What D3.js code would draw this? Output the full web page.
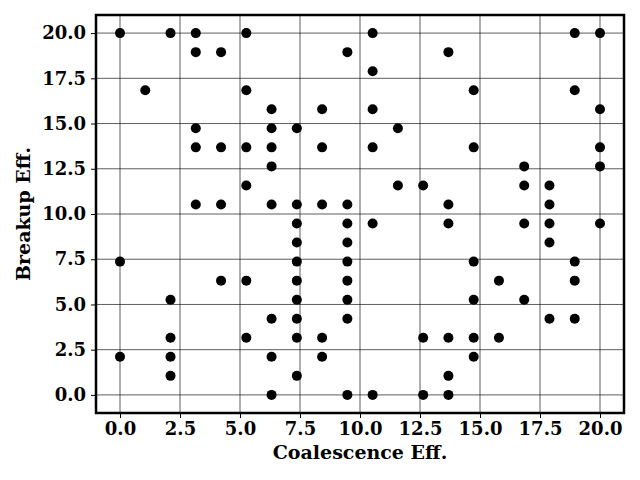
<!DOCTYPE html>
<html><head><meta charset="utf-8">
<script src="https://cdn.jsdelivr.net/npm/d3@7"></script>
<style>body{margin:0;background:#fff}</style>
</head><body>
<svg id="c" width="640" height="480"></svg>
<script>
// Grid levels: 20 evenly spaced values from 0 to 20
const levels = Array.from({length: 20}, (_, k) => k * 20 / 19);
// Points given as [x-level index, y-level index]
const rowJ = [19,18,17,16,15,14,13,12,11,10,9,8,7,6,5,4,3,2,1,0];
const rowI = [
  [0,2,3,5,10,18,19],
  [3,4,9,13],
  [10],
  [1,5,14,18],
  [6,8,10,19],
  [3,6,7,11],
  [3,4,5,6,8,10,14,19],
  [6,16,19],
  [5,11,12,16,17],
  [3,4,6,7,8,9,13,17],
  [7,9,10,13,16,17,19],
  [7,9,17],
  [0,7,9,14,18],
  [4,5,7,9,15,18],
  [2,7,9,14,16],
  [6,7,9,17,18],
  [2,5,7,8,12,13,14,15],
  [0,2,6,8,14],
  [2,7,13],
  [6,9,10,12,13]
];
const xValues = [], yValues = [];
rowJ.forEach((j, r) => rowI[r].forEach(i => { xValues.push(levels[i]); yValues.push(levels[j]); }));
const ticks = [0, 2.5, 5, 7.5, 10, 12.5, 15, 17.5, 20];

const svg = d3.select("#c");
const L = 96, R = 624, T = 15, B = 413;
const x = d3.scaleLinear().domain([-1, 21]).range([L, R]);
const y = d3.scaleLinear().domain([-1, 21]).range([B, T]);
const font = "'DejaVu Serif', serif";

// grid
svg.append("g").selectAll("line.gx").data(ticks).join("line")
  .attr("x1", d => x(d)).attr("x2", d => x(d)).attr("y1", T).attr("y2", B)
  .attr("stroke", "#000").attr("stroke-width", 0.8).attr("stroke-opacity", 0.8);
svg.append("g").selectAll("line.gy").data(ticks).join("line")
  .attr("y1", d => y(d)).attr("y2", d => y(d)).attr("x1", L).attr("x2", R)
  .attr("stroke", "#000").attr("stroke-width", 0.8).attr("stroke-opacity", 0.8);

// points
svg.append("g").selectAll("circle").data(xValues).join("circle")
  .attr("cx", d => x(d)).attr("cy", (d, k) => y(yValues[k])).attr("r", 5).attr("fill", "#000");

// axes
const xa = svg.append("g").attr("transform", `translate(0,${B})`)
  .call(d3.axisBottom(x).tickValues(ticks).tickFormat(d3.format(".1f")).tickSize(5).tickPadding(4));
const ya = svg.append("g").attr("transform", `translate(${L},0)`)
  .call(d3.axisLeft(y).tickValues(ticks).tickFormat(d3.format(".1f")).tickSize(5).tickPadding(5));
[xa, ya].forEach(a => {
  a.select(".domain").remove();
  a.selectAll("text").attr("font-family", font).attr("font-weight", "bold").attr("font-size", 18).attr("fill", "#000");
  a.selectAll("line").attr("stroke", "#000").attr("stroke-width", 1);
});

// frame
svg.append("rect").attr("x", L).attr("y", T).attr("width", R - L).attr("height", B - T)
  .attr("fill", "none").attr("stroke", "#000").attr("stroke-width", 2.5);

svg.append("text").attr("x", (L + R) / 2).attr("y", 459).attr("text-anchor", "middle")
  .attr("font-family", font).attr("font-weight", "bold").attr("font-size", 19).text("Coalescence Eff.");
svg.append("text").attr("transform", `translate(30,${(T + B) / 2}) rotate(-90)`).attr("text-anchor", "middle")
  .attr("font-family", font).attr("font-weight", "bold").attr("font-size", 19).text("Breakup Eff.");
</script>
</body></html>
